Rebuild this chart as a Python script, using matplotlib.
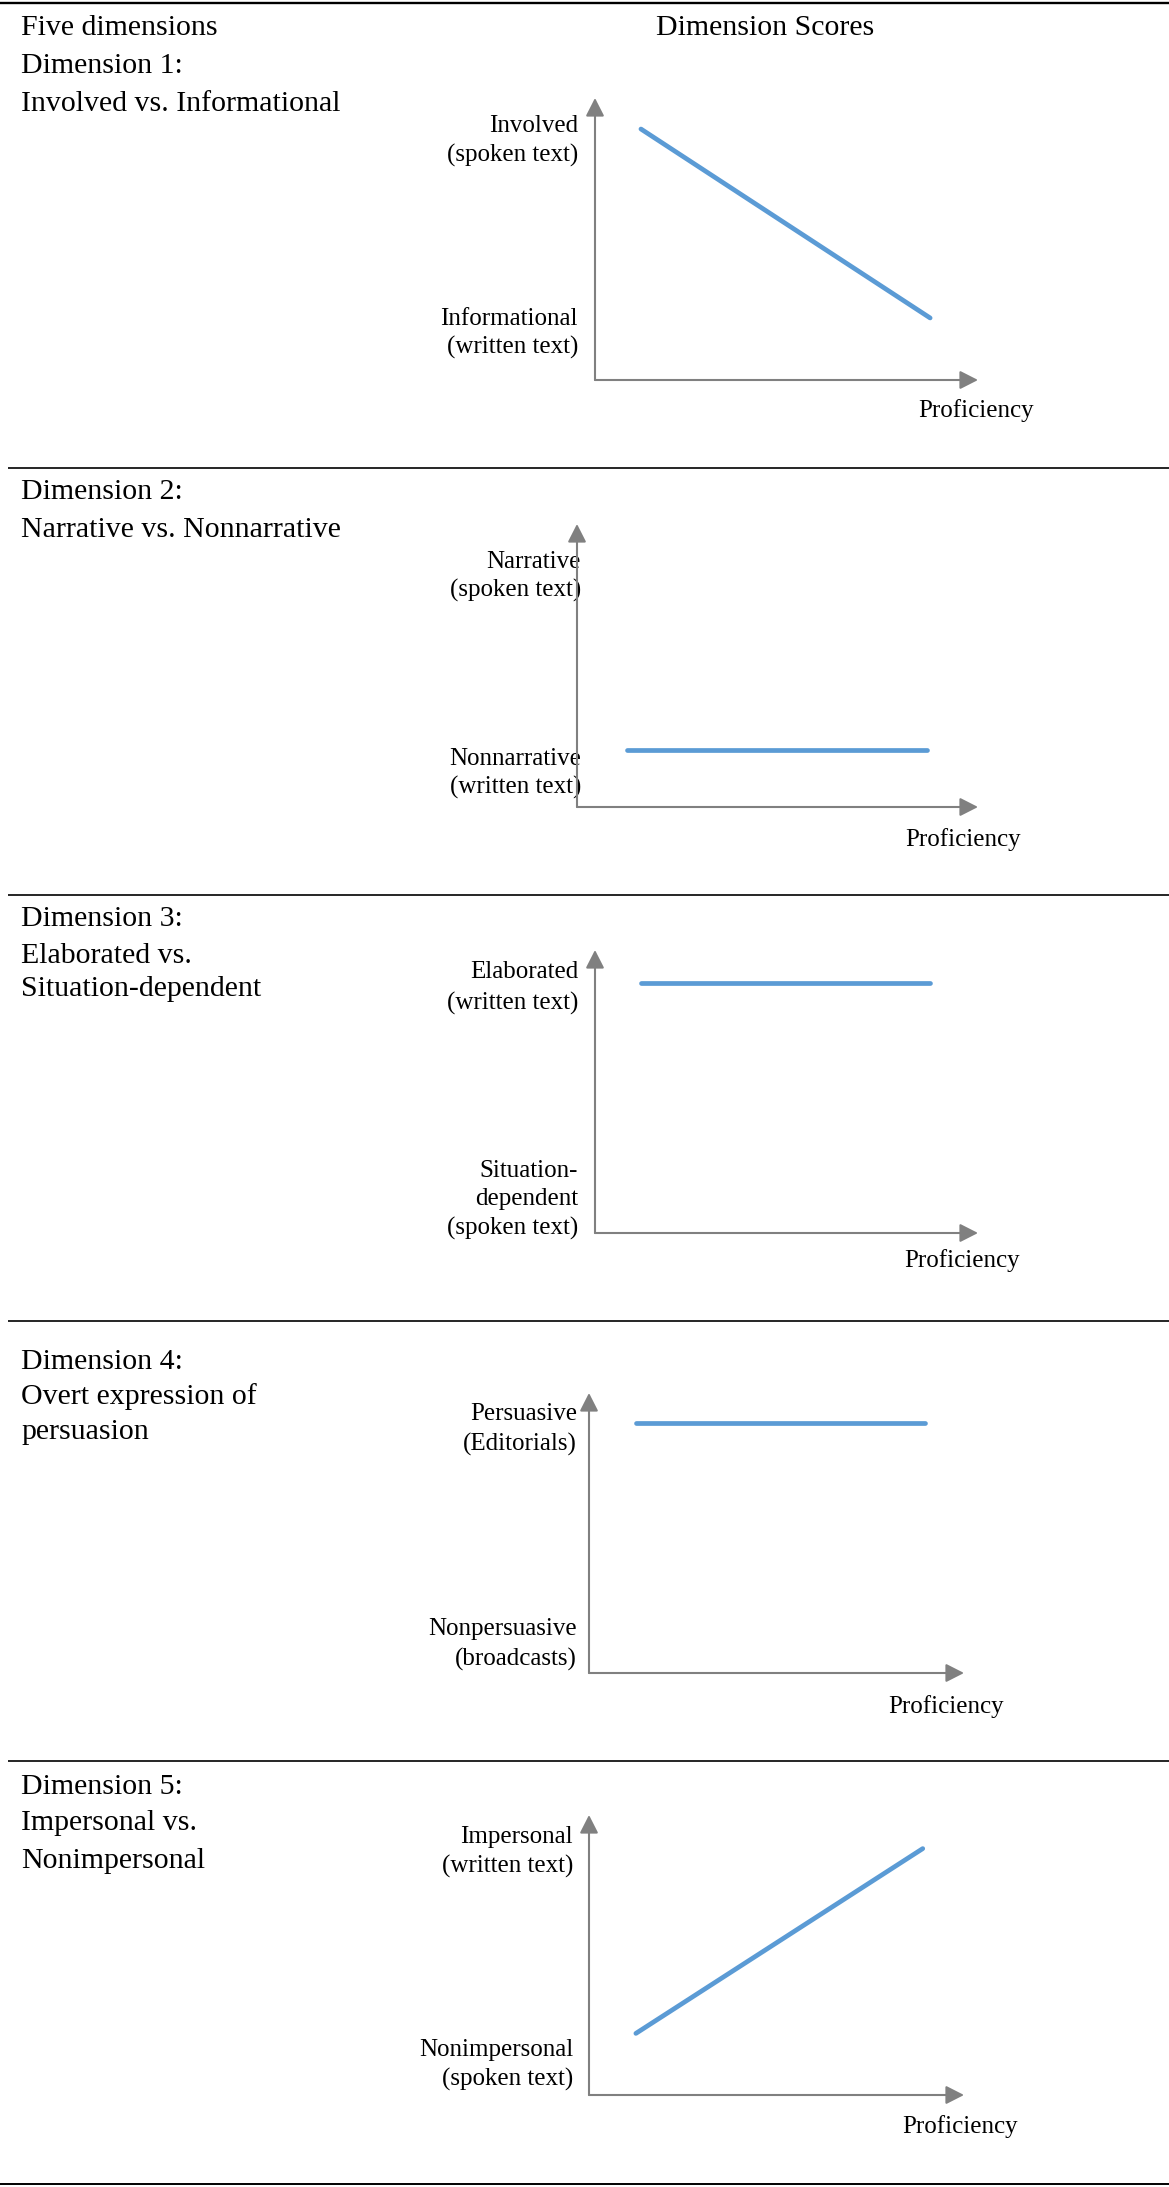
import matplotlib
matplotlib.use("Agg")
import matplotlib.pyplot as plt

W, H = 1169, 2187
plt.rcParams['font.family'] = ['Liberation Serif', 'DejaVu Serif']

# ---- data ----
header_left = "Five dimensions"
header_right = "Dimension Scores"
dim_titles = [
    ["Dimension 1:", "Involved vs. Informational"],
    ["Dimension 2:", "Narrative vs. Nonnarrative"],
    ["Dimension 3:", "Elaborated vs.", "Situation-dependent"],
    ["Dimension 4:", "Overt expression of", "persuasion"],
    ["Dimension 5:", "Impersonal vs.", "Nonimpersonal"],
]
top_labels = [
    ["Involved", "(spoken text)"],
    ["Narrative", "(spoken text)"],
    ["Elaborated", "(written text)"],
    ["Persuasive", "(Editorials)"],
    ["Impersonal", "(written text)"],
]
bottom_labels = [
    ["Informational", "(written text)"],
    ["Nonnarrative", "(written text)"],
    ["Situation-", "dependent", "(spoken text)"],
    ["Nonpersuasive", "(broadcasts)"],
    ["Nonimpersonal", "(spoken text)"],
]
x_label = "Proficiency"
# proficiency (start, end) and score (at low, at high proficiency)
prof_start = [0.12, 0.125, 0.12, 0.125, 0.125]
prof_end = [0.875, 0.873, 0.875, 0.896, 0.89]
score_low_prof = [0.89, 0.20, 0.883, 0.893, 0.22]
score_high_prof = [0.22, 0.20, 0.883, 0.893, 0.88]

# ---- layout (pixels) ----
axes_px = [  # left, top(arrow tip), right(arrow tip), bottom
    (595, 98, 978, 380),
    (577, 524, 978, 807),
    (595, 950, 978, 1233),
    (589, 1393, 964, 1673),
    (589, 1815, 964, 2095),
]
DY = 3
title_y = [[63, 101], [489, 527], [916, 953, 986], [1359, 1394, 1429], [1784, 1820, 1858]]
top_label_y = [[123, 152], [559, 587], [969, 1000], [1411, 1441], [1834, 1863]]
bot_label_y = [[316, 344], [756, 784], [1168, 1196, 1225], [1626, 1656], [2047, 2076]]
label_right = [578, 581, 578, 577, 573]
prof_xy = [(918, 408), (905, 837), (904, 1258), (888, 1704), (902, 2124)]
rules = [(0, 3, 1169, 1.7), (8, 468, 1169, 1.2), (8, 895, 1169, 1.2),
         (8, 1321, 1169, 1.2), (8, 1761, 1169, 1.2), (0, 2184, 1169, 1.4)]

HEAD_FS = 21.5
LAB_FS = 18
GRAY = '#808080'
BLUE = '#5B9BD5'

fig = plt.figure(figsize=(W / 100, H / 100), dpi=100)
bg = fig.add_axes([0, 0, 1, 1])
bg.set_xlim(0, W)
bg.set_ylim(H, 0)
bg.axis('off')

def fx(x):
    return x / W

def fy(y):
    return 1 - y / H

for x0, y, x1, lw in rules:
    bg.plot([x0, x1], [y, y], color='black', lw=lw, solid_capstyle='butt')

bg.text(21, 25 + DY, header_left, fontsize=HEAD_FS, va='center', ha='left')
bg.text(765, 25 + DY, header_right, fontsize=HEAD_FS, va='center', ha='center')

for i in range(5):
    for t, y in zip(dim_titles[i], title_y[i]):
        bg.text(21, y + DY, t, fontsize=HEAD_FS, va='center', ha='left')
    for t, y in zip(top_labels[i], top_label_y[i]):
        bg.text(label_right[i], y + DY, t, fontsize=LAB_FS, va='center', ha='right')
    for t, y in zip(bottom_labels[i], bot_label_y[i]):
        bg.text(label_right[i], y + DY, t, fontsize=LAB_FS, va='center', ha='right')
    px, py = prof_xy[i]
    bg.text(px, py + DY, x_label, fontsize=LAB_FS, va='center', ha='left')

    l, t, r, b = axes_px[i]
    ax = fig.add_axes([fx(l), fy(b), fx(r) - fx(l), fy(t) - fy(b)])
    ax.set_xlim(0, 1)
    ax.set_ylim(0, 1)
    ax.axis('off')
    ax.patch.set_alpha(0)
    ap = dict(arrowstyle='-|>,head_length=0.55,head_width=0.28', color=GRAY,
              lw=1.5, mutation_scale=20, shrinkA=0, shrinkB=0)
    ax.annotate('', xy=(0, 1), xytext=(0, 0), xycoords='axes fraction',
                arrowprops=ap, annotation_clip=False)
    ax.annotate('', xy=(1, 0), xytext=(0, 0), xycoords='axes fraction',
                arrowprops=ap, annotation_clip=False)
    ax.plot([prof_start[i], prof_end[i]], [score_low_prof[i], score_high_prof[i]],
            color=BLUE, lw=3.4, solid_capstyle='round', clip_on=False)

fig.savefig('out.png', dpi=100)
